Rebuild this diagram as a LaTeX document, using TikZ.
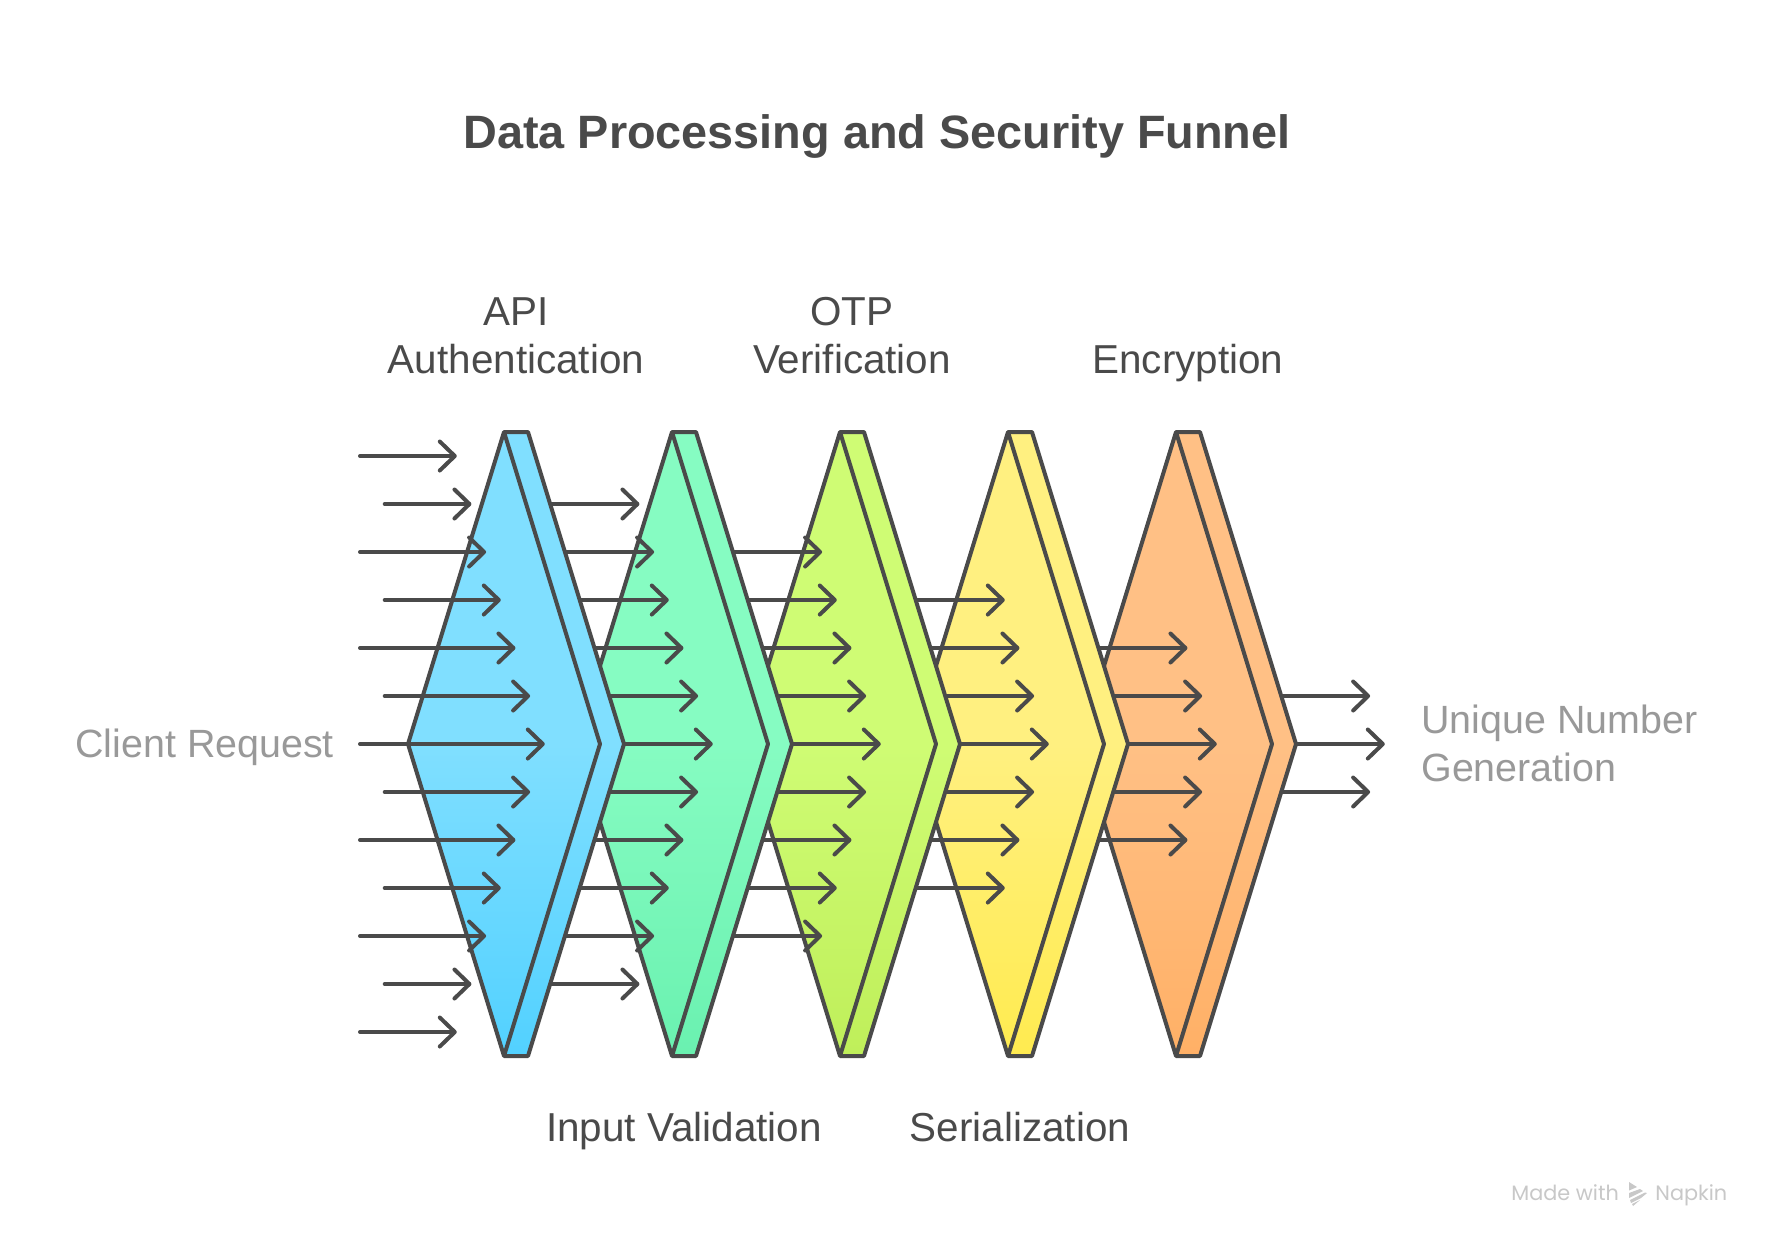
\documentclass[tikz,border=0pt]{standalone}
\usepackage{fontspec}
\setmainfont{Liberation Sans}
\newfontfamily\badgefont{Poppins}
\usepackage{xcolor}
\usetikzlibrary{arrows.meta,positioning}

\definecolor{inkgray}{HTML}{4A4A4A}
\definecolor{softgray}{HTML}{999999}
\definecolor{badgegray}{HTML}{C8C8C8}
\definecolor{bluetop}{HTML}{80DFFF}
\definecolor{bluebot}{HTML}{52D1FF}
\definecolor{greentop}{HTML}{86FCC2}
\definecolor{greenbot}{HTML}{6AF1B0}
\definecolor{limetop}{HTML}{CFFC74}
\definecolor{limebot}{HTML}{BFEF5A}
\definecolor{yellowtop}{HTML}{FFF080}
\definecolor{yellowbot}{HTML}{FFEB50}
\definecolor{orangetop}{HTML}{FFC085}
\definecolor{orangebot}{HTML}{FFB066}

\tikzset{
  flowarrow/.style={draw=inkgray,line width=2pt,line cap=round,
    -{Straight Barb[length=7.5pt,width=14.5pt,round]}},
  stageline/.style={draw=inkgray,line width=2pt,line join=round},
  titletext/.style={anchor=base,inner sep=0pt,text=inkgray,font=\fontsize{23.4}{28}\selectfont\bfseries},
  stagetext/.style={anchor=base,inner sep=0pt,align=center,text=inkgray,font=\fontsize{20.2}{24}\selectfont},
  endtext/.style={anchor=base west,inner sep=0pt,align=left,text=softgray,font=\fontsize{19.7}{24}\selectfont},
  badgetext/.style={anchor=base west,inner sep=0pt,text=badgegray,font=\fontsize{10.4}{12}\badgefont}
}

% one column of arrows, the row range shrinks with the stage
\newcommand{\rowarrows}[1]{
  \pgfmathtruncatemacro{\rowlo}{#1}
  \pgfmathtruncatemacro{\rowhi}{12-#1}
  \foreach \r in {\rowlo,...,\rowhi}{
    \pgfmathsetmacro{\startx}{#1==0 ? (mod(\r,2)==1 ? 384.7 : 360) : 504+168*(#1-1)+30}
    \pgfmathsetmacro{\tipx}{544.8+168*#1-14.67*abs(\r-6)}
    \draw[flowarrow] (\startx,456+48*\r) -- (\tipx,456+48*\r);
  }
}

\begin{document}
\begin{tikzpicture}[x=0.5pt,y=-0.5pt]
\useasboundingbox (0,0) rectangle (1776,1248);
\fill[white] (0,0) rectangle (1776,1248);

% Title
\node[titletext] (title) at (877,148) {Data Processing and Security Funnel};

% Arrows leaving the last stage
\rowarrows{5}

% Stages from right to left, each one covers the start of the next arrows
\foreach \s/\topcol/\botcol in {4/orangetop/orangebot,3/yellowtop/yellowbot,2/limetop/limebot,1/greentop/greenbot,0/bluetop/bluebot}{
  \pgfmathsetmacro{\xo}{504+168*\s}
  \shadedraw[stageline,top color=\topcol,bottom color=\botcol,middle color=\topcol]
    (\xo-96,744) -- (\xo,432) -- (\xo+24,432) -- (\xo+120,744) -- (\xo+24,1056) -- (\xo,1056) -- cycle;
  \draw[stageline] (\xo,432) -- (\xo+96,744) -- (\xo,1056);
  \rowarrows{\s}
}

% Stage labels
\node[stagetext] (auth) at (516,373) {API\\Authentication};
\node[stagetext] (otp) at (852,373) {OTP\\Verification};
\node[stagetext] (crypt) at (1188,373) {Encryption};
\node[stagetext] (valid) at (684,1141) {Input Validation};
\node[stagetext] (serial) at (1020,1141) {Serialization};

% End labels
\node[endtext] (client) at (75,757) {Client Request};
\node[endtext] (unique) at (1421,781) {Unique Number\\Generation};

% Badge
\node[badgetext] (made) at (1511,1200) {Made with};
\node[badgetext] (napkin) at (1655,1200) {Napkin};
\fill[badgegray] (1629,1182) -- (1637,1187) -- (1629,1190.5) -- cycle;
\fill[badgegray] (1629,1193) -- (1640,1189) -- (1643,1191) -- (1629,1198) -- cycle;
\fill[badgegray] (1630,1200) -- (1645,1192.5) -- (1647,1193) -- (1641,1198) -- (1631,1203) -- cycle;
\fill[badgegray] (1632,1204) -- (1640,1200) -- (1633,1206) -- cycle;
\end{tikzpicture}
\end{document}
